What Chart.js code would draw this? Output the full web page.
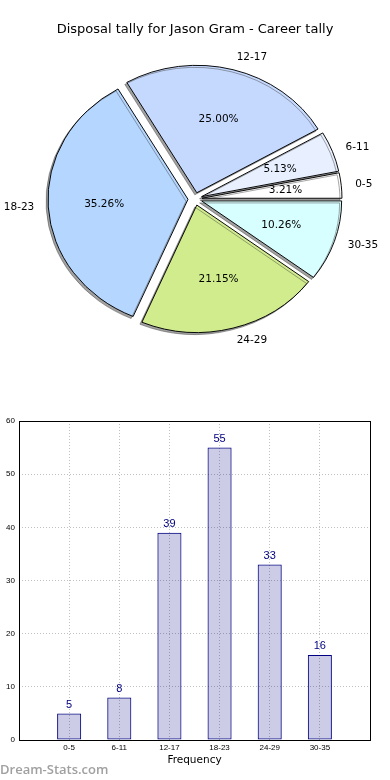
<!DOCTYPE html>
<html>
<head>
<meta charset="utf-8">
<script src="https://cdn.jsdelivr.net/npm/chart.js@4"></script>
<style>
  body { margin: 0; background: #fff; width: 390px; height: 780px; position: relative; overflow: hidden; }
  #pieBox { position: absolute; left: 0; top: 0; width: 390px; height: 360px; }
  #barBox { position: absolute; left: 0; top: 400px; width: 390px; height: 380px; }
  #mark { position: absolute; left: 0; top: 763px; font: 600 13px/1 "Open Sans"; color: #a0a0a0; }
</style>
</head>
<body>
<div id="pieBox"><canvas id="pie"></canvas></div>
<div id="barBox"><canvas id="bar"></canvas></div>
<div id="mark">Dream-Stats.com</div>
<script>
const categories = ['0-5', '6-11', '12-17', '18-23', '24-29', '30-35'];
const tally = [5, 8, 39, 55, 33, 16];
const sliceColors = ['#ffffff', '#e8f0ff', '#c5d9ff', '#b4d6ff', '#d0ec8c', '#d8ffff'];

const EXPLODE = 7;     // px each slice is pushed out
const SQUASH = 0.91;   // the pie is a little flatter than round

// slices go counter-clockwise from east, chart.js goes clockwise -> reverse
const pieLabels = categories.slice().reverse();
const pieValues = tally.slice().reverse();
const pieColors = sliceColors.slice().reverse();

const pieLook = {
    id: 'pieLook',
    beforeDatasetsDraw(chart) {
        chart.getDatasetMeta(0).data.forEach(arc => {
            if (arc.exploded) return;
            const draw = arc.draw;
            arc.draw = function (ctx) {
                const mid = (this.startAngle + this.endAngle) / 2;
                ctx.save();
                ctx.translate(this.x, this.y);
                ctx.scale(1, SQUASH);
                ctx.translate(-this.x, -this.y);
                ctx.translate(Math.cos(mid) * EXPLODE, Math.sin(mid) * EXPLODE);
                ctx.shadowColor = 'rgba(70,70,70,0.5)';
                ctx.shadowOffsetX = -2;
                ctx.shadowOffsetY = 2;
                draw.call(this, ctx);
                ctx.restore();
            };
            arc.exploded = true;
        });
    },
    afterDatasetsDraw(chart) {
        const ctx = chart.ctx;
        const values = chart.data.datasets[0].data;
        const names = chart.data.labels;
        const total = values.reduce((a, b) => a + b, 0);
        ctx.save();
        ctx.font = '10.5px "DejaVu Sans"';
        ctx.fillStyle = '#000';
        ctx.textBaseline = 'middle';
        chart.getDatasetMeta(0).data.forEach((arc, i) => {
            const mid = (arc.startAngle + arc.endAngle) / 2;
            const cos = Math.cos(mid), sin = Math.sin(mid);
            const r = arc.outerRadius;
            const at = d => [arc.x + cos * (EXPLODE + d * r), arc.y + sin * (EXPLODE + d * r) * SQUASH];
            let [x, y] = at(0.6);
            ctx.textAlign = 'center';
            ctx.fillText((values[i] / total * 100).toFixed(2) + '%', x, y);
            [x, y] = at(1.1);
            ctx.textAlign = cos > 0 ? 'left' : 'right';
            ctx.fillText(names[i], x, y);
        });
        ctx.restore();
    }
};

new Chart(document.getElementById('pie'), {
    type: 'pie',
    data: {
        labels: pieLabels,
        datasets: [{
            data: pieValues,
            backgroundColor: pieColors,
            borderColor: '#000',
            borderWidth: 1,
            clip: false
        }]
    },
    options: {
        animation: false,
        events: [],
        maintainAspectRatio: false,
        radius: 140,
        rotation: 90,
        plugins: {
            legend: { display: false },
            tooltip: { enabled: false },
            title: {
                display: true,
                text: 'Disposal tally for Jason Gram - Career tally',
                color: '#000',
                font: { family: '"DejaVu Sans"', size: 13, weight: 'normal' },
                padding: { top: 22.2, bottom: 0 }
            }
        }
    },
    plugins: [pieLook]
});

// bar chart
const boxAndValues = {
    id: 'boxAndValues',
    afterDatasetsDraw(chart) {
        const ctx = chart.ctx;
        ctx.save();
        ctx.font = '11px "Liberation Sans"';
        ctx.fillStyle = '#000080';
        ctx.textAlign = 'center';
        ctx.textBaseline = 'bottom';
        chart.getDatasetMeta(0).data.forEach((bar, i) => {
            ctx.fillText(String(tally[i]), bar.x, bar.y - 3);
        });
        ctx.restore();
    },
    afterDraw(chart) {
        const a = chart.chartArea;
        const ctx = chart.ctx;
        ctx.save();
        ctx.strokeStyle = '#000';
        ctx.lineWidth = 1;
        ctx.strokeRect(a.left + 0.5, a.top + 0.5, a.width, a.height);
        ctx.restore();
    }
};

new Chart(document.getElementById('bar'), {
    type: 'bar',
    data: {
        datasets: [{
            data: tally.map((v, i) => ({ x: i, y: v })),
            backgroundColor: 'rgba(0,0,128,0.2)',
            borderColor: '#000080',
            borderWidth: 1,
            borderSkipped: false,
            barPercentage: 0.48,
            categoryPercentage: 1
        }]
    },
    options: {
        animation: false,
        events: [],
        maintainAspectRatio: false,
        layout: { padding: { top: 21, right: 20, left: 0, bottom: 0 } },
        plugins: {
            legend: { display: false },
            tooltip: { enabled: false }
        },
        scales: {
            x: {
                type: 'linear',
                min: -1,
                max: 6,
                offset: false,
                z: 1,
                afterFit: s => { s.height = 40; },
                grid: { color: '#c0c0c0', lineWidth: 1, drawTicks: false, offset: false },
                border: { display: false, dash: [1, 2] },
                ticks: {
                    stepSize: 1,
                    autoSkip: false,
                    maxRotation: 0,
                    padding: 3,
                    color: '#000',
                    font: { family: '"Liberation Sans"', size: 8 },
                    callback: v => categories[v] ?? ''
                },
                title: {
                    display: true,
                    text: 'Frequency',
                    color: '#000',
                    font: { family: '"DejaVu Sans"', size: 10.5 },
                    padding: { top: 0, bottom: 13.7 }
                }
            },
            y: {
                min: 0,
                max: 60,
                z: 1,
                afterFit: s => { s.width = 19; },
                grid: { color: '#c0c0c0', lineWidth: 1, drawTicks: false },
                border: { display: false, dash: [1, 2] },
                ticks: {
                    stepSize: 10,
                    padding: 4,
                    color: '#000',
                    font: { family: '"Liberation Sans"', size: 8 }
                }
            }
        }
    },
    plugins: [boxAndValues]
});
</script>
</body>
</html>
